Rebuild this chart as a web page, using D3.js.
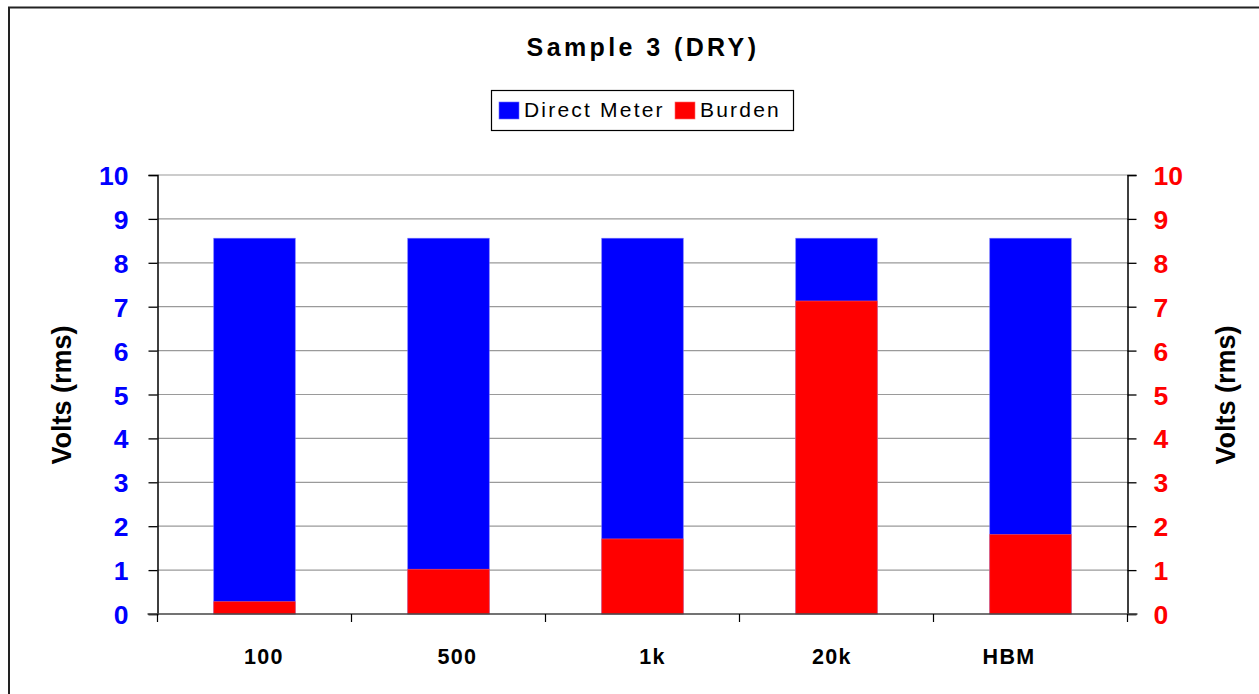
<!DOCTYPE html>
<html><head><meta charset="utf-8">
<script src="https://cdn.jsdelivr.net/npm/d3@7/dist/d3.min.js"></script>
<style>
html,body{margin:0;padding:0;background:#fff;}
svg{display:block;font-family:"Liberation Sans",Arial,sans-serif;}
</style></head>
<body>
<svg id="chart" width="1259" height="694"></svg>
<script>
const categories = ["100", "500", "1k", "20k", "HBM"];
const directMeter = [8.56, 8.56, 8.56, 8.56, 8.56];
const burden = [0.28, 1.02, 1.71, 7.13, 1.81];
const yTicks = [0,1,2,3,4,5,6,7,8,9,10];
const seriesNames = ["Direct Meter", "Burden"];
const seriesColors = ["#0000FF", "#FF0000"];

(function () {
const svg = d3.select("#chart");
const pLeft = 157.5, pRight = 1127.5, pTop = 175, pBottom = 614;
const labelNudge = [9.5, 9, 10, -4.5, -21.5];

// outer border
svg.append("rect").attr("x", 9).attr("y", 7.5).attr("width", 1300).attr("height", 800)
  .attr("fill", "none").attr("stroke", "#222").attr("stroke-width", 2);

const x = d3.scaleBand().domain(categories).range([pLeft, pRight]).paddingInner(0.58).paddingOuter(0.29);
const xb = d3.scaleBand().domain(categories).range([pLeft, pRight]);
const y = d3.scaleLinear().domain([0, 10]).range([pBottom, pTop]);

// gridlines
svg.append("g").selectAll("line").data(yTicks.filter(d => d > 0)).join("line")
  .attr("x1", pLeft).attr("x2", pRight)
  .attr("y1", d => y(d)).attr("y2", d => y(d))
  .attr("stroke", "#9a9a9a").attr("stroke-width", 1.2);

// bars
svg.append("g").selectAll("rect").data(categories).join("rect")
  .attr("x", d => x(d)).attr("width", x.bandwidth())
  .attr("y", (d, i) => y(directMeter[i])).attr("height", (d, i) => y(0) - y(directMeter[i]))
  .attr("fill", seriesColors[0]).attr("stroke", "#6b6bff").attr("stroke-width", 0.6);
svg.append("g").selectAll("rect").data(categories).join("rect")
  .attr("x", d => x(d)).attr("width", x.bandwidth())
  .attr("y", (d, i) => y(burden[i])).attr("height", (d, i) => y(0) - y(burden[i]))
  .attr("fill", seriesColors[1]).attr("stroke", "#ff5a5a").attr("stroke-width", 0.6);

// left axis
const gl = svg.append("g").attr("transform", `translate(${pLeft},0)`)
  .call(d3.axisLeft(y).tickValues(yTicks).tickSize(9).tickPadding(20).tickFormat(d3.format("d")));
gl.select(".domain").attr("stroke", "#000").attr("stroke-width", 1.5);
gl.selectAll(".tick line").attr("stroke", "#000").attr("stroke-width", 1.3);
gl.selectAll(".tick text").attr("fill", "#0000FF").attr("font-size", 26.5).attr("font-weight", "bold")
  .attr("font-family", "'Liberation Sans',Arial,sans-serif").attr("dy", "0.36em");

// right axis
const gr = svg.append("g").attr("transform", `translate(${pRight},0)`)
  .call(d3.axisRight(y).tickValues(yTicks).tickSize(9).tickPadding(17).tickFormat(d3.format("d")));
gr.select(".domain").attr("stroke", "#000").attr("stroke-width", 1.5);
gr.selectAll(".tick line").attr("stroke", "#000").attr("stroke-width", 1.3);
gr.selectAll(".tick text").attr("fill", "#FF0000").attr("font-size", 26.5).attr("font-weight", "bold")
  .attr("font-family", "'Liberation Sans',Arial,sans-serif").attr("dy", "0.36em");

// bottom axis line
svg.append("line").attr("x1", pLeft - 10).attr("x2", pRight + 10).attr("y1", pBottom).attr("y2", pBottom)
  .attr("stroke", "#444").attr("stroke-width", 1.5);
// category boundary ticks
const bounds = categories.map(c => xb(c)).concat([pRight]);
svg.append("g").selectAll("line").data(bounds).join("line")
  .attr("x1", d => d).attr("x2", d => d).attr("y1", pBottom).attr("y2", pBottom + 8)
  .attr("stroke", "#000").attr("stroke-width", 1.2);
// category labels
svg.append("g").selectAll("text").data(categories).join("text")
  .attr("x", (d, i) => xb(d) + xb.bandwidth() / 2 + labelNudge[i]).attr("y", 664)
  .attr("text-anchor", "middle").attr("font-size", 21.5).attr("font-weight", "bold")
  .attr("letter-spacing", "1.3px").attr("fill", "#000").text(d => d);

// axis titles
svg.append("text").attr("transform", `translate(71,395) rotate(-90)`)
  .attr("text-anchor", "middle").attr("font-size", 27).attr("font-weight", "bold").text("Volts (rms)");
svg.append("text").attr("transform", `translate(1234.5,395) rotate(-90)`)
  .attr("text-anchor", "middle").attr("font-size", 27).attr("font-weight", "bold").text("Volts (rms)");

// title
svg.append("text").attr("x", 643).attr("y", 56).attr("text-anchor", "middle")
  .attr("font-size", 25).attr("font-weight", "bold").attr("letter-spacing", "3.4px").text("Sample 3 (DRY)");

// legend
const lg = svg.append("g");
lg.append("rect").attr("x", 491.5).attr("y", 90.5).attr("width", 302).attr("height", 40)
  .attr("fill", "#fff").attr("stroke", "#000").attr("stroke-width", 1.2);
const legX = [499, 675];
seriesNames.forEach((n, i) => {
  lg.append("rect").attr("x", legX[i]).attr("y", 102).attr("width", 20).attr("height", 17)
    .attr("fill", seriesColors[i]).attr("stroke", i ? "#ff6a6a" : "#6b6bff").attr("stroke-width", 0.6);
  lg.append("text").attr("x", legX[i] + 25).attr("y", 116.5).attr("font-size", 21)
    .attr("letter-spacing", "2.2px").attr("fill", "#000").text(n);
});
})();
</script>
</body></html>
